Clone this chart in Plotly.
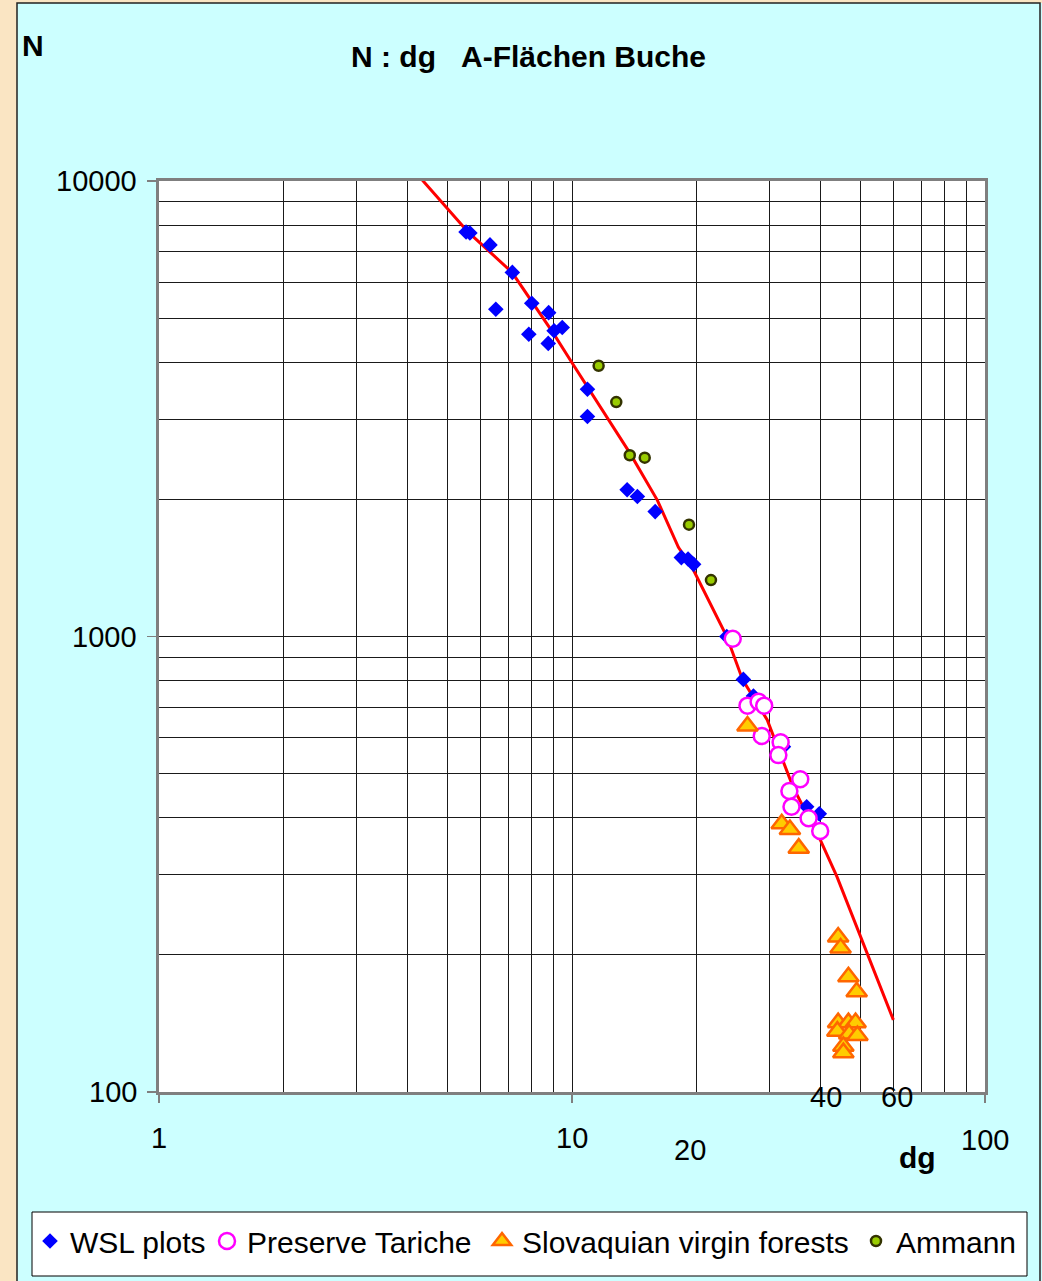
import math
import plotly.graph_objects as go

# ---------------- data ----------------
wsl_dg = [5.54, 5.66, 6.33, 7.17, 6.54, 7.99, 8.78, 7.86, 9.05, 9.47, 8.76, 10.9, 10.9,
          13.6, 14.4, 15.9, 18.4, 19.1, 19.7, 23.7, 26.0, 27.5, 32.5, 37.0, 39.7]
wsl_n = [7730, 7690, 7240, 6300, 5230, 5390, 5140, 4610, 4690, 4770, 4400, 3490, 3040,
         2100, 2030, 1880, 1490, 1480, 1440, 1000, 805, 740, 573, 423, 408]

tariche_dg = [24.5, 26.6, 28.3, 29.2, 28.8, 32.0, 31.6, 35.7, 33.6, 34.0, 37.4, 39.9]
tariche_n = [989, 705, 719, 705, 605, 586, 549, 486, 458, 423, 399, 374]

slovak_dg = [26.6, 32.2, 33.7, 35.4, 44.1, 44.7, 46.7, 48.9, 44.1, 46.7, 48.6, 43.9,
             46.9, 49.1, 45.4, 45.4]
slovak_n = [636, 388, 377, 343, 219, 207, 179, 166, 142, 142, 142, 136, 134, 133, 126, 122]

ammann_dg = [11.6, 12.8, 13.8, 15.0, 19.2, 21.7]
ammann_n = [3930, 3270, 2500, 2470, 1760, 1330]

curve_dg = [4.17, 5.6, 7.15, 9.0, 10.0, 10.9, 13.8, 16.1, 18.1, 19.6, 23.7, 25.9, 29.7,
            34.3, 39.9, 43.8, 60]
curve_n = [10470, 7730, 6310, 4640, 3990, 3530, 2530, 1990, 1570, 1410, 1000, 803, 656,
           467, 358, 297, 144]

series_names = ["WSL plots", "Preserve Tariche", "Slovaquian virgin forests", "Ammann"]

x_tick_vals = [1, 10, 20, 40, 60, 100]
x_tick_text = ["1", "10", "20", "40", "60", "100"]
y_tick_vals = [100, 1000, 10000]
y_tick_text = ["100", "1000", "10000"]

title_text = "N\u00a0:\u00a0dg\u00a0\u00a0\u00a0A-Flächen Buche"
x_title = "dg"
y_title = "N"

# ---------------- geometry / style ----------------
W, H = 1042, 1281
L, R, T, B = 159, 985, 181, 1092       # plot area in pixels
pw, ph = R - L, B - T


def px(xp):
    return (xp - L) / pw


def py(yp):
    return (B - yp) / ph


FONT = "Liberation Sans, Arial, sans-serif"
CYAN = "#CCFFFF"
BEIGE = "#FAE5C3"
GRID = "#1a1a1a"
AXIS = "#7f7f7f"

fig = go.Figure()

fig.add_trace(go.Scatter(x=curve_dg, y=curve_n, mode="lines",
                         line=dict(color="#FF0000", width=3),
                         showlegend=False, hoverinfo="skip"))
fig.add_trace(go.Scatter(x=wsl_dg, y=wsl_n, mode="markers", name=series_names[0],
                         legend="legend",
                         marker=dict(symbol="diamond", size=12, color="#0000FF",
                                     line=dict(width=0))))
fig.add_trace(go.Scatter(x=tariche_dg, y=tariche_n, mode="markers", name=series_names[1],
                         legend="legend2",
                         marker=dict(symbol="circle", size=16, color="white",
                                     line=dict(color="#FF00FF", width=2.5))))
fig.add_trace(go.Scatter(x=slovak_dg, y=slovak_n, mode="markers", name=series_names[2],
                         legend="legend3",
                         marker=dict(symbol="triangle-up", size=18, color="#FFCC00",
                                     line=dict(color="#FF6600", width=2.5))))
fig.add_trace(go.Scatter(x=ammann_dg, y=ammann_n, mode="markers", name=series_names[3],
                         legend="legend4",
                         marker=dict(symbol="circle", size=10, color="#99CC00",
                                     line=dict(color="#333300", width=2.5))))

minor_x = [m * d for d in (1, 10) for m in range(2, 10)]
minor_y = [m * d for d in (100, 1000) for m in range(2, 10)]

fig.update_xaxes(type="log", range=[0, 2], tickvals=[1, 10, 100], showticklabels=False,
                 ticks="outside", ticklen=8, tickcolor=AXIS, tickwidth=1.5,
                 showgrid=True, gridcolor=GRID, gridwidth=1,
                 minor=dict(tickvals=minor_x, showgrid=True, gridcolor=GRID,
                            gridwidth=1, ticks=""),
                 showline=True, linecolor=AXIS, linewidth=3, mirror=True, zeroline=False)
fig.update_yaxes(type="log", range=[2, 4], tickvals=y_tick_vals, showticklabels=False,
                 ticks="outside", ticklen=9, tickcolor=AXIS, tickwidth=1.5,
                 showgrid=True, gridcolor=GRID, gridwidth=1,
                 minor=dict(tickvals=minor_y, showgrid=True, gridcolor=GRID,
                            gridwidth=1, ticks=""),
                 showline=True, linecolor=AXIS, linewidth=3, mirror=True, zeroline=False)

shapes = [
    # beige frame strips
    dict(type="rect", xref="paper", yref="paper", x0=px(-20), x1=px(17), y0=py(H + 20),
         y1=py(-20), fillcolor=BEIGE, line=dict(width=0), layer="below"),
    dict(type="rect", xref="paper", yref="paper", x0=px(-20), x1=px(W + 20), y0=py(3),
         y1=py(-20), fillcolor=BEIGE, line=dict(width=0), layer="below"),
    # panel border
    dict(type="rect", xref="paper", yref="paper", x0=px(17), x1=px(1040), y0=py(H + 5),
         y1=py(3), fillcolor="rgba(0,0,0,0)", line=dict(color="#222222", width=1.5),
         layer="below"),
    # legend box
    dict(type="rect", xref="paper", yref="paper", x0=px(32), x1=px(1027), y0=py(1276),
         y1=py(1212), fillcolor="white", line=dict(color="black", width=1), layer="below"),
]

annotations = []
lab_font = dict(family=FONT, size=29, color="black")
bold_font = dict(family=FONT, size=30, color="black", weight="bold")

# x tick labels (placement offsets for the hand-placed labels)
x_label_pos = {"1": (0, 1138), "10": (0, 1138), "20": (-6, 1150), "40": (5, 1097),
               "60": (4, 1097), "100": (0, 1140)}
for v, t in zip(x_tick_vals, x_tick_text):
    dx, yp = x_label_pos[t]
    annotations.append(dict(xref="x", yref="paper", x=math.log10(v), y=py(yp), text=t,
                            showarrow=False, xanchor="center", yanchor="middle",
                            xshift=dx, font=lab_font))
for v, t in zip(y_tick_vals, y_tick_text):
    annotations.append(dict(xref="paper", yref="y", x=px(139), y=math.log10(v), text=t,
                            showarrow=False, xanchor="right", yanchor="middle",
                            font=lab_font))

annotations.append(dict(xref="paper", yref="paper", x=px(528), y=py(57), text=title_text,
                        showarrow=False, xanchor="center", yanchor="middle", font=bold_font))
annotations.append(dict(xref="paper", yref="paper", x=px(33), y=py(46), text=y_title,
                        showarrow=False, xanchor="center", yanchor="middle", font=bold_font))
annotations.append(dict(xref="paper", yref="paper", x=px(917), y=py(1157), text=x_title,
                        showarrow=False, xanchor="center", yanchor="middle", font=bold_font))

leg_font = dict(family=FONT, size=30, color="black")


def leg(sym_center_px):
    return dict(orientation="h", x=px(sym_center_px - 20), xanchor="left",
                y=py(1241), yanchor="middle", bgcolor="rgba(0,0,0,0)", borderwidth=0,
                font=leg_font, itemclick=False, itemdoubleclick=False)


fig.update_layout(
    width=W, height=H,
    margin=dict(l=L, r=W - R, t=T, b=H - B, pad=0, autoexpand=False),
    paper_bgcolor=CYAN, plot_bgcolor="white",
    font=dict(family=FONT, size=29, color="black"),
    shapes=shapes, annotations=annotations,
    showlegend=True,
    legend=leg(50), legend2=leg(227), legend3=leg(502), legend4=leg(876),
    hovermode=False,
)

fig.write_html("out.html",
               config={"displayModeBar": False, "staticPlot": True},
               post_script="document.body.style.margin='0';"
                           "document.body.style.overflow='hidden';")
